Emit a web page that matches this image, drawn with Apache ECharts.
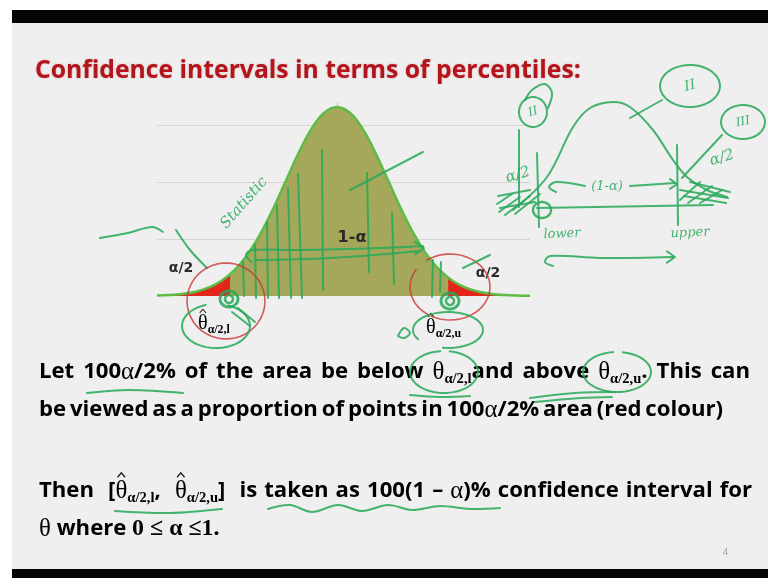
<!DOCTYPE html>
<html>
<head>
<meta charset="utf-8">
<script src="https://cdn.jsdelivr.net/npm/echarts@6/dist/echarts.min.js"></script>
<style>
  html, body { margin: 0; padding: 0; background: #ffffff; }
  #chart { width: 768px; height: 578px; }
</style>
</head>
<body>
<div id="chart"></div>
<script>
// Standardised sampling statistic: positions (in sigma units) and density heights
const zValues = [-3.5, -3.25, -3.0, -2.75, -2.5, -2.25, -2.0, -1.75, -1.5, -1.25, -1.0, -0.75, -0.5, -0.25, 0,
                 0.25, 0.5, 0.75, 1.0, 1.25, 1.5, 1.75, 2.0, 2.25, 2.5, 2.75, 3.0, 3.25, 3.5, 3.75];
const density = [0.0007, 0.0017, 0.0037, 0.0076, 0.0146, 0.0264, 0.0449, 0.0718, 0.1078, 0.1520, 0.2014, 0.2506, 0.2930, 0.3218, 0.3320,
                 0.3218, 0.2930, 0.2506, 0.2014, 0.1520, 0.1078, 0.0718, 0.0449, 0.0264, 0.0146, 0.0076, 0.0037, 0.0017, 0.0007, 0.0003];

// Percentile cut points (lower and upper alpha/2 tails)
const lowerCut = -2.08, lowerCutDensity = 0.0382;
const upperCut = 2.16, upperCutDensity = 0.0322;

const curve = zValues.map((z, i) => [z, density[i]]);
const lowerTail = curve.filter(p => p[0] < lowerCut).concat([[lowerCut, lowerCutDensity]]);
const upperTail = [[upperCut, upperCutDensity]].concat(curve.filter(p => p[0] > upperCut));

const INK = 'rgba(38,168,88,0.85)';
const RED_INK = 'rgba(200,55,55,0.8)';
const TEXT = '#1c1c1c';
const SANS = '"Open Sans"';
const SERIF = '"Liberation Serif"';

// --- text measuring / rich-line layout ---
const measureCtx = document.createElement('canvas').getContext('2d');
function textWidth(str, font) { measureCtx.font = font; return measureCtx.measureText(str).width; }

// token kinds: t = sans bold, g = serif greek, h = serif greek with hat, b = serif bold, s = subscript, w = word gap
function tokenFont(kind, size) {
  if (kind === 't' || kind === 'w') return { fontFamily: SANS, fontWeight: 'bold', fontSize: size };
  if (kind === 'g' || kind === 'h') return { fontFamily: SERIF, fontWeight: 'normal', fontSize: size * 1.12 };
  if (kind === 'b') return { fontFamily: SERIF, fontWeight: 'bold', fontSize: size * 1.08 };
  return { fontFamily: SERIF, fontWeight: 'bold', fontSize: size * 0.66 };
}
function cssFont(f) { return f.fontWeight + ' ' + f.fontSize + 'px ' + f.fontFamily; }
function lineWidthAt(tokens, size) {
  let w = 0;
  tokens.forEach(([k, s]) => { w += textWidth(s, cssFont(tokenFont(k, size))); });
  return w;
}
function fitSize(tokens, targetWidth) { return 20 * targetWidth / lineWidthAt(tokens, 20); }

// split sans runs so the gaps between words can be stretched to a target line length
function splitGaps(tokens) {
  const out = [];
  tokens.forEach(([k, s]) => {
    if (k !== 't') { out.push([k, s]); return; }
    s.split(/( )/).forEach(part => {
      if (part === '') return;
      out.push(part === ' ' ? ['w', ' '] : ['t', part]);
    });
  });
  return out;
}

function richLine(tokens, x, y, size, color, z, targetWidth) {
  const parts = splitGaps(tokens);
  const natural = lineWidthAt(parts, size);
  const gaps = parts.filter(p => p[0] === 'w').length;
  const gapW = textWidth(' ', cssFont(tokenFont('w', size))) + (targetWidth && gaps ? (targetWidth - natural) / gaps : 0);
  const rich = {};
  ['t', 'g', 'h', 'b', 's', 'w'].forEach(k => {
    const f = tokenFont(k, size);
    rich[k] = Object.assign({}, f, { color: color, lineHeight: size * 1.3 });
    if (k === 's') rich[k].verticalAlign = 'bottom';
    if (k === 'w') rich[k].width = Math.max(1, gapW);
  });
  const out = [{ type: 'text', z: z || 50, x: x, y: y,
    style: { text: parts.map(([k, s]) => '{' + k + '|' + s + '}').join(''), rich: rich, verticalAlign: 'middle', align: 'left' } }];
  let cx = x;
  parts.forEach(([k, s]) => {
    const w = k === 'w' ? Math.max(1, gapW) : textWidth(s, cssFont(tokenFont(k, size)));
    if (k === 'h') {
      const mid = cx + w / 2, top = y - size * 0.62;
      out.push({ type: 'polyline', z: (z || 50) + 1, silent: true,
        shape: { points: [[mid - size * 0.17, top], [mid, top - size * 0.2], [mid + size * 0.17, top]] },
        style: { stroke: color, lineWidth: Math.max(1.1, size * 0.06), fill: null } });
    }
    cx += w;
  });
  return out;
}

// --- freehand pen helpers ---
function pen(points, opt) {
  opt = opt || {};
  return {
    type: 'polyline', z: 100, silent: true,
    shape: { points: points, smooth: opt.smooth == null ? 0.35 : opt.smooth },
    style: { stroke: opt.color || INK, lineWidth: opt.width || 2, fill: null, lineCap: 'round', lineJoin: 'round' }
  };
}
function loop(cx, cy, rx, ry, opt) {
  opt = opt || {};
  const pts = [];
  const start = opt.start || 0, sweep = opt.sweep || Math.PI * 2.1;
  for (let k = 0; k <= 44; k++) {
    const a = start + sweep * k / 44;
    pts.push([cx + rx * Math.cos(a), cy + ry * Math.sin(a)]);
  }
  return pen(pts, { color: opt.color, width: opt.width, smooth: 0 });
}
function scrawl(text, x, y, size, rot, color) {
  return {
    type: 'text', z: 100, silent: true, x: x, y: y, rotation: rot || 0,
    style: { text: text, font: 'italic ' + size + 'px "DejaVu Serif"', fill: color || INK, align: 'center', verticalAlign: 'middle' }
  };
}
function arrowHead(x, y, dir, size) {
  const s = size || 8;
  return pen([[x - dir * s, y - s * 0.7], [x, y], [x - dir * s, y + s * 0.7]], { smooth: 0 });
}

// --- slide frame ---
const frame = [
  { type: 'rect', z: -10, shape: { x: 0, y: 0, width: 768, height: 578 }, style: { fill: '#ffffff' } },
  { type: 'rect', z: -9, shape: { x: 12, y: 10, width: 756, height: 568 }, style: { fill: '#efefef' } },
  { type: 'rect', z: -8, shape: { x: 12, y: 10, width: 756, height: 13 }, style: { fill: '#050505' } },
  { type: 'rect', z: -8, shape: { x: 12, y: 569, width: 756, height: 9 }, style: { fill: '#050505' } }
];

// --- slide text ---
const titleText = 'Confidence intervals in terms of percentiles:';
const titleSize = 21 * 546 / textWidth(titleText, 'bold 21px ' + SANS);

const line1 = [['t', 'Let 100'], ['g', 'α'], ['t', '/2% of the area be below '], ['g', 'θ'], ['s', 'α/2,l'],
               ['t', 'and above '], ['g', 'θ'], ['s', 'α/2,u'], ['t', '. This can']];
const line2 = [['t', 'be viewed as a proportion of points in 100'], ['g', 'α'], ['t', '/2% area (red colour)']];
const line3 = [['t', 'Then  ['], ['h', 'θ'], ['s', 'α/2,l'], ['t', ',  '], ['h', 'θ'], ['s', 'α/2,u'],
               ['t', ']  is taken as 100(1 – '], ['g', 'α'], ['t', ')% confidence interval for']];
const line4 = [['g', 'θ'], ['t', ' where '], ['b', '0 ≤ α ≤1.']];
// one body size for every line; word gaps absorb the remaining length difference
const bodySize = 0.985 * (fitSize(line1, 711) + fitSize(line2, 684) + fitSize(line3, 713)) / 3;

const slideText = [
  { type: 'text', z: 50, x: 35, y: 71,
    style: { text: titleText, font: 'bold ' + titleSize + 'px ' + SANS, fill: '#b3151d',
             verticalAlign: 'middle', textShadowColor: 'rgba(180,30,30,0.35)', textShadowBlur: 2 } },
  { type: 'text', z: 50, x: 723, y: 548, style: { text: '4', font: '9px ' + SANS, fill: '#9a9a9a' } }
].concat(
  richLine(line1, 39, 372, bodySize, TEXT, 50, 711),
  richLine(line2, 39, 410, bodySize, TEXT, 50, 684),
  richLine(line3, 39, 491, bodySize, TEXT, 50, 713),
  richLine(line4, 39, 529, bodySize, TEXT, 50)
);

// --- chart labels ---
const LABEL = '#2a2a2a';
const chartLabels = [
  { type: 'text', z: 60, x: 352, y: 238, style: { text: '1-α', font: 'bold 16px "DejaVu Sans"', fill: LABEL, align: 'center', verticalAlign: 'middle' } },
  { type: 'text', z: 60, x: 181, y: 268, style: { text: 'α/2', font: 'bold 14px "DejaVu Sans"', fill: LABEL, align: 'center', verticalAlign: 'middle' } },
  { type: 'text', z: 60, x: 488, y: 273, style: { text: 'α/2', font: 'bold 14px "DejaVu Sans"', fill: LABEL, align: 'center', verticalAlign: 'middle' } }
].concat(
  richLine([['h', 'θ'], ['s', 'α/2,l']], 198, 324, 18, LABEL, 60),
  richLine([['h', 'θ'], ['s', 'α/2,u']], 426, 328, 18, LABEL, 60)
);

// --- pen annotations over the curve ---
const notes = [
  // hatch strokes inside the central area
  pen([[243, 262], [244, 296]]), pen([[255, 245], [256, 298]]), pen([[267, 222], [268, 298]]),
  pen([[277, 205], [279, 298]]), pen([[288, 188], [291, 298]]), pen([[298, 174], [302, 298]]),
  pen([[322, 150], [323, 290]]), pen([[367, 173], [369, 272]]), pen([[392, 213], [394, 284]]),
  pen([[350, 190], [423, 152]]),
  // 1-alpha arrow
  pen([[252, 262], [246, 255], [252, 250], [300, 250], [380, 248], [423, 246]]),
  pen([[255, 260], [330, 258], [420, 251]]),
  arrowHead(424, 248, 1, 9),
  scrawl('Statistic', 244, 203, 15, 0.85),
  // left pointer strokes
  pen([[100, 238], [128, 233], [152, 227], [163, 232]]),
  pen([[176, 230], [190, 250], [207, 268]]),
  // lower tail markings
  loop(226, 301, 39, 38, { color: RED_INK, width: 1.6 }),
  loop(229, 299, 9, 8, { width: 3 }), loop(229, 299, 4, 4, { width: 2.5 }),
  loop(216, 326, 34, 22, { start: -1.2, sweep: 5.6 }),
  pen([[232, 312], [250, 326]]), pen([[238, 308], [255, 322]]),
  // upper tail markings
  loop(450, 287, 40, 33, { color: RED_INK, width: 1.6, start: -2.2, sweep: 5.9 }),
  loop(450, 301, 9, 8, { width: 3 }), loop(450, 301, 4, 4, { width: 2.5 }),
  loop(448, 330, 35, 18, { start: 2.6, sweep: 5.4 }),
  pen([[398, 336], [404, 328], [410, 333], [404, 338], [398, 336]]),
  pen([[463, 268], [490, 255]]),
  pen([[433, 260], [432, 297]]), pen([[441, 262], [440, 292]]),
  // sketch on the right
  pen([[513, 210], [547, 177], [573, 127], [590, 108], [613, 102], [630, 107], [653, 130], [673, 160], [687, 177], [707, 190], [727, 197]]),
  pen([[537, 208], [713, 205]], { smooth: 0 }),
  pen([[519, 130], [519, 207]], { smooth: 0 }), pen([[537, 153], [539, 227]], { smooth: 0 }),
  pen([[677, 145], [678, 225]], { smooth: 0 }),
  loop(533, 112, 14, 15), pen([[525, 100], [532, 90], [545, 84], [552, 93], [548, 108]]),
  scrawl('II', 533, 112, 12, 0.3),
  loop(690, 86, 30, 21), scrawl('II', 690, 86, 14, 0.25),
  pen([[662, 100], [630, 118]], { smooth: 0 }),
  loop(743, 122, 22, 17), scrawl('III', 743, 122, 12, 0.2),
  pen([[722, 135], [682, 178]], { smooth: 0 }),
  scrawl('α/2', 518, 175, 15, 0.3), scrawl('α/2', 722, 158, 15, 0.3),
  pen([[556, 192], [549, 187], [556, 182], [585, 186]]), scrawl('(1-α)', 607, 187, 13, 0),
  pen([[630, 186], [675, 183]], { smooth: 0 }), arrowHead(677, 184, 1, 7),
  // hatching in sketch tails
  pen([[497, 204], [512, 194]], { smooth: 0 }), pen([[499, 212], [520, 197]], { smooth: 0 }),
  pen([[505, 215], [530, 196]], { smooth: 0 }), pen([[515, 214], [540, 194]], { smooth: 0 }),
  pen([[498, 196], [530, 190]], { smooth: 0 }), pen([[500, 208], [535, 202]], { smooth: 0 }),
  pen([[680, 200], [700, 182]], { smooth: 0 }), pen([[688, 203], [712, 186]], { smooth: 0 }),
  pen([[700, 203], [722, 190]], { smooth: 0 }), pen([[680, 190], [728, 198]], { smooth: 0 }),
  pen([[684, 196], [726, 203]], { smooth: 0 }), pen([[690, 182], [730, 192]], { smooth: 0 }),
  loop(542, 210, 9, 8, { width: 2.4 }),
  scrawl('lower', 562, 234, 13, 0.05), scrawl('upper', 690, 233, 13, 0.05),
  pen([[553, 266], [545, 262], [550, 256], [600, 258], [673, 257]]), arrowHead(675, 257, 1, 8),
  // marks on the text lines
  pen([[87, 393], [130, 390], [183, 393]]),
  loop(444, 372, 34, 21, { start: -1.4, sweep: 6.0 }),
  pen([[410, 395], [440, 397], [470, 396]]),
  loop(617, 372, 34, 20, { start: -1.4, sweep: 6.0 }),
  pen([[530, 398], [575, 393], [615, 392]]), pen([[535, 402], [580, 398], [612, 397]]),
  pen([[115, 511], [170, 513], [222, 509]]),
  pen([[268, 509], [290, 505], [312, 512], [338, 505], [362, 511], [388, 505], [412, 510], [440, 506], [470, 509], [500, 508]])
];

const chart = echarts.init(document.getElementById('chart'));
chart.setOption({
  animation: false,
  backgroundColor: '#ffffff',
  grid: { left: 157, right: 238, top: 103, bottom: 282 },
  xAxis: {
    type: 'value', min: -3.5, max: 3.75,
    axisLine: { show: false }, axisTick: { show: false }, axisLabel: { show: false }, splitLine: { show: false }
  },
  yAxis: {
    type: 'value', min: 0, max: 0.339, interval: 0.1,
    axisLabel: { show: false }, axisTick: { show: false },
    axisLine: { show: true, onZero: true, lineStyle: { color: '#bdbdbd', width: 1 } },
    splitLine: { show: true, showMinLine: false, showMaxLine: false, lineStyle: { color: '#d4d4d4', width: 1 } }
  },
  series: [
    { type: 'line', data: curve, smooth: 0.4, symbol: 'none', lineStyle: { width: 0 },
      areaStyle: { color: '#a5a85a', opacity: 1 }, z: 2 },
    { type: 'line', data: lowerTail, smooth: 0.4, symbol: 'none', lineStyle: { width: 0 },
      areaStyle: { color: '#e2261a', opacity: 1 }, z: 3 },
    { type: 'line', data: upperTail, smooth: 0.4, symbol: 'none', lineStyle: { width: 0 },
      areaStyle: { color: '#e2261a', opacity: 1 }, z: 3 },
    { type: 'line', data: curve, smooth: 0.4, symbol: 'none',
      lineStyle: { color: '#5cbc45', width: 2.5 }, z: 4 }
  ],
  graphic: frame.concat(slideText, chartLabels, notes)
});
</script>
</body>
</html>
